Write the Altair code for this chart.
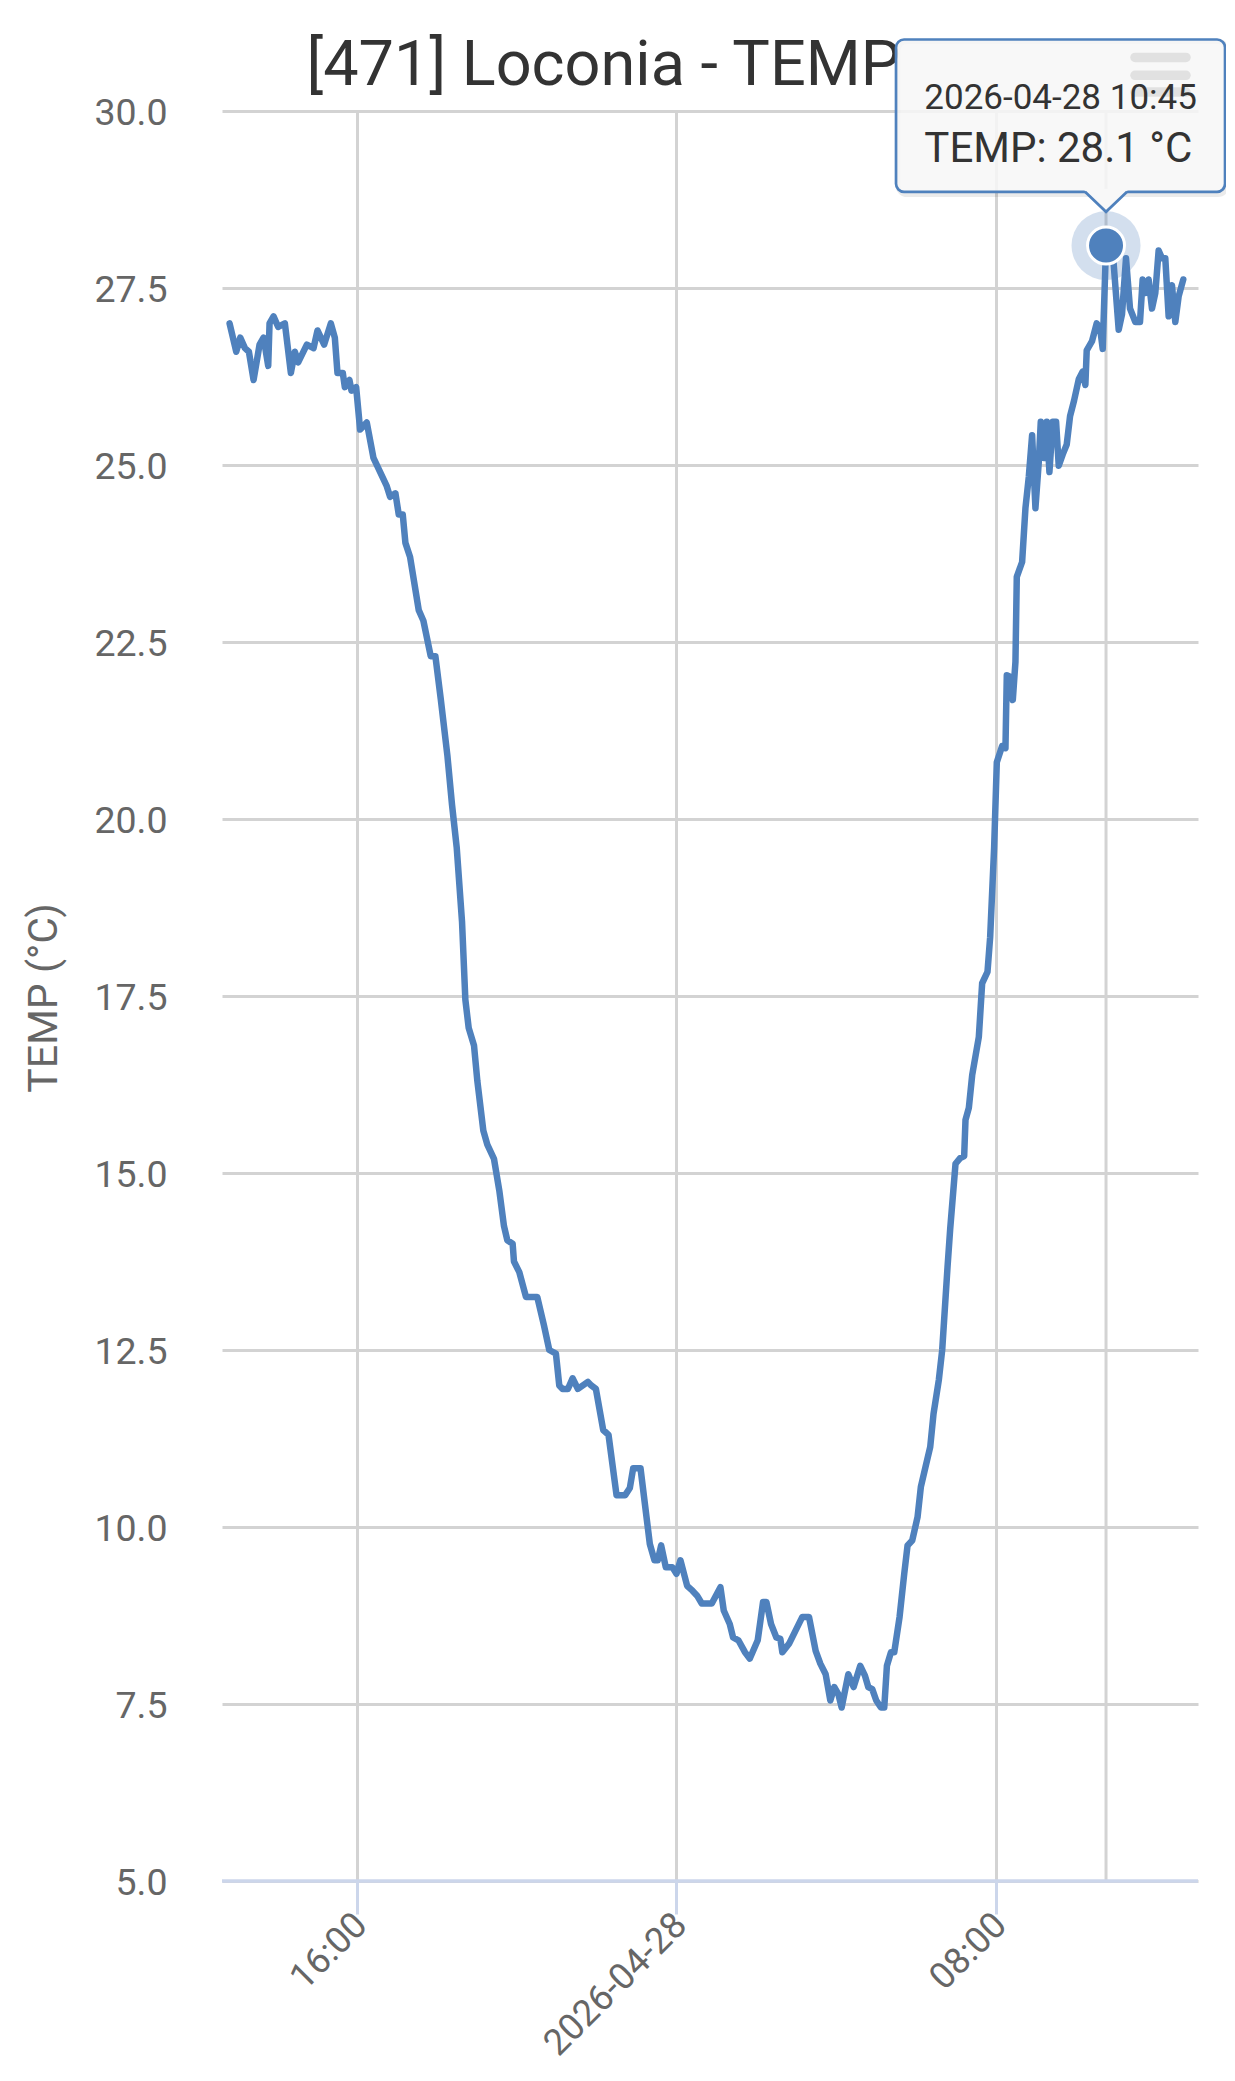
import altair as alt
import pandas as pd

TITLE = "[471] Loconia - TEMP"
Y_TITLE = "TEMP (°C)"

# 2026-04-27 readings
day1_times = ["12:49", "12:59", "13:05", "13:12", "13:18", "13:25", "13:34", "13:40", "13:47", "13:49",
              "13:55", "14:02", "14:12", "14:21", "14:27", "14:32", "14:45", "14:55", "15:01", "15:11",
              "15:21", "15:27", "15:31", "15:39", "15:42", "15:49", "15:52", "15:59", "16:05", "16:15",
              "16:25", "16:45", "16:50", "16:58", "17:03", "17:09", "17:13", "17:20", "17:33", "17:40",
              "17:51", "17:58", "18:06", "18:16", "18:23", "18:30", "18:38", "18:43", "18:48", "18:56",
              "19:01", "19:10", "19:16", "19:26", "19:34", "19:41", "19:46", "19:54", "19:56", "20:04",
              "20:14", "20:31", "20:41", "20:49", "20:59", "21:04", "21:09", "21:17", "21:24", "21:32",
              "21:47", "21:52", "21:59", "22:10", "22:18", "22:30", "22:43", "22:50", "22:55", "23:06",
              "23:20", "23:27", "23:32", "23:37", "23:44", "23:54"]
day1_temps = [27.0, 26.6, 26.8, 26.65, 26.6, 26.2, 26.7, 26.8, 26.4, 27.0,
              27.1, 26.95, 27.0, 26.3, 26.6, 26.45, 26.7, 26.65, 26.9, 26.7,
              27.0, 26.8, 26.3, 26.3, 26.1, 26.2, 26.05, 26.1, 25.5, 25.6,
              25.1, 24.7, 24.55, 24.6, 24.3, 24.3, 23.9, 23.7, 22.95, 22.8,
              22.3, 22.3, 21.7, 20.9, 20.2, 19.6, 18.55, 17.45, 17.05, 16.8,
              16.3, 15.6, 15.4, 15.2, 14.75, 14.25, 14.05, 14.0, 13.75, 13.6,
              13.25, 13.25, 12.85, 12.5, 12.45, 12.0, 11.95, 11.95, 12.1, 11.95,
              12.05, 12.0, 11.95, 11.37, 11.3, 10.45, 10.45, 10.55, 10.83, 10.83,
              9.76, 9.53, 9.53, 9.74, 9.43, 9.43]

# 2026-04-28 readings
day2_times = ["00:00", "00:06", "00:16", "00:24", "00:31", "00:38", "00:53", "01:06", "01:11", "01:20",
              "01:25", "01:33", "01:43", "01:50", "02:02", "02:10", "02:15", "02:22", "02:30", "02:36",
              "02:39", "02:49", "02:59", "03:09", "03:19", "03:29", "03:36", "03:44", "03:51", "03:57",
              "04:03", "04:08", "04:18", "04:26", "04:36", "04:43", "04:48", "04:54", "05:00", "05:07",
              "05:12", "05:16", "05:22", "05:27", "05:35", "05:42", "05:47", "05:54", "06:02", "06:07",
              "06:14", "06:21", "06:26", "06:34", "06:39", "06:47", "06:51", "06:59", "07:06", "07:12",
              "07:14", "07:19", "07:24", "07:34", "07:39", "07:47", "07:51", "07:57", "08:01", "08:09",
              "08:14", "08:16", "08:21", "08:25", "08:29", "08:31", "08:39", "08:44", "08:49", "08:54",
              "08:59", "09:04", "09:07", "09:12", "09:16", "09:20", "09:25", "09:30", "09:34", "09:40",
              "09:46", "09:51", "09:57", "10:04", "10:10", "10:14", "10:16", "10:24", "10:31", "10:36",
              "10:40", "10:45", "10:56", "11:04", "11:09", "11:15", "11:21", "11:29", "11:36", "11:40",
              "11:45", "11:49", "11:54", "11:59", "12:04", "12:09", "12:14", "12:19", "12:24", "12:29",
              "12:34", "12:41"]
day2_temps = [9.34, 9.53, 9.17, 9.1, 9.03, 8.92, 8.92, 9.15, 8.82, 8.63,
              8.44, 8.4, 8.23, 8.14, 8.4, 8.94, 8.94, 8.63, 8.44, 8.42,
              8.23, 8.35, 8.54, 8.73, 8.73, 8.25, 8.07, 7.92, 7.55, 7.74,
              7.64, 7.45, 7.92, 7.74, 8.04, 7.9, 7.74, 7.71, 7.55, 7.45,
              7.45, 8.04, 8.23, 8.23, 8.73, 9.34, 9.74, 9.81, 10.14, 10.57,
              10.85, 11.13, 11.6, 12.08, 12.5, 13.67, 14.21, 15.13, 15.21, 15.24,
              15.75, 15.92, 16.38, 16.92, 17.68, 17.84, 18.33, 19.6, 20.8, 21.03,
              21.0, 22.03, 22.01, 21.68, 22.22, 23.42, 23.63, 24.39, 24.83, 25.42,
              24.39, 25.04, 25.61, 25.1, 25.61, 24.9, 25.61, 25.61, 24.99, 25.15,
              25.29, 25.69, 25.91, 26.21, 26.32, 26.13, 26.62, 26.75, 27.0, 26.94,
              26.64, 28.1, 27.9, 26.91, 27.13, 27.92, 27.21, 27.02, 27.02, 27.62,
              27.43, 27.62, 27.21, 27.43, 28.03, 27.92, 27.92, 27.1, 27.54, 27.02,
              27.38, 27.62]

# hovered point shown in the tooltip
hover_time = "2026-04-28 10:45"
hover_temp = 28.1
y_ticks = [5.0, 7.5, 10.0, 12.5, 15.0, 17.5, 20.0, 22.5, 25.0, 27.5, 30.0]

iso = [f"2026-04-27T{t}:00Z" for t in day1_times] + [f"2026-04-28T{t}:00Z" for t in day2_times]
df = pd.DataFrame({"time": iso, "temp": day1_temps + day2_temps})
hl = pd.DataFrame({
    "time": [hover_time.replace(" ", "T") + ":00Z"],
    "temp": [hover_temp],
    "header": [hover_time],
    "body": [f"TEMP: {hover_temp} °C"],
})

BLUE = "#4F81BD"
GRID = "#d3d3d3"
AXIS = "#ccd6eb"
FONT = "Roboto"

xscale = alt.Scale(
    type="utc",
    domain=[alt.DateTime(year=2026, month=4, date=27, hours=12, minutes=37, seconds=36, utc=True),
            alt.DateTime(year=2026, month=4, date=28, hours=13, minutes=3, seconds=6, utc=True)],
)
yscale = alt.Scale(domain=[5, 30], nice=False, zero=False)

xaxis = alt.Axis(
    values=[alt.DateTime(year=2026, month=4, date=27, hours=16, utc=True),
            alt.DateTime(year=2026, month=4, date=28, hours=0, utc=True),
            alt.DateTime(year=2026, month=4, date=28, hours=8, utc=True)],
    labelExpr="utcFormat(datum.value, '%H:%M') == '00:00' ? utcFormat(datum.value, '%Y-%m-%d') : utcFormat(datum.value, '%H:%M')",
    labelAngle=315, labelAlign="right", labelBaseline="middle",
    labelFont=FONT, labelFontSize=36.5, labelColor="#666666", labelLimit=0,
    labelPadding=5, labelOffset=4, labelOverlap=False, labelFlush=False, labelBound=False,
    tickSize=33, tickWidth=3, tickColor=AXIS,
    grid=True, gridColor=GRID, gridWidth=3,
    domain=False, title=None,
)
yaxis = alt.Axis(
    values=y_ticks, format=".1f",
    labelFont=FONT, labelFontSize=37.5, labelColor="#666666",
    labelPadding=55, labelOffset=2, labelBaseline="middle",
    domain=False, ticks=False,
    grid=True, gridColor=GRID, gridWidth=3,
    title=None,
)

X = alt.X("time:T", scale=xscale, axis=xaxis)
Y = alt.Y("temp:Q", scale=yscale, axis=yaxis)

crosshair = alt.Chart(hl).mark_rule(color=GRID, strokeWidth=3).encode(x="time:T")
xdomain = alt.Chart(hl).mark_rule(color=AXIS, strokeWidth=3.3).encode(y=alt.datum(5))

line = alt.Chart(df).mark_line(color=BLUE, strokeWidth=6.5, strokeJoin="round", strokeCap="round").encode(x=X, y=Y)

halo = alt.Chart(hl).mark_point(filled=True, color=BLUE, opacity=0.25, size=4761).encode(x="time:T", y="temp:Q")
dot = alt.Chart(hl).mark_point(filled=True, fill=BLUE, fillOpacity=1, opacity=1, stroke="white",
                               strokeWidth=3, size=1369).encode(x="time:T", y="temp:Q")

title = alt.Chart(hl).mark_text(text=TITLE, align="left", baseline="alphabetic", font=FONT,
                                fontSize=63, color="#333333").encode(x=alt.value(84.5), y=alt.value(-25.7))
ytitle = alt.Chart(hl).mark_text(text=Y_TITLE, angle=270, align="center", baseline="alphabetic", font=FONT,
                                 fontSize=41, color="#666666").encode(x=alt.value(-164.7), y=alt.value(887))

menu = [
    alt.Chart(hl).mark_rule(color="#666666", strokeWidth=9.5, strokeCap="round").encode(
        x=alt.value(913), x2=alt.value(964), y=alt.value(yy))
    for yy in (-53.6, -35.7, -18.9)
]

shadow = alt.Chart(hl).mark_rect(xOffset=-208, x2Offset=121, yOffset=-204, y2Offset=-51, fill="none",
                                 stroke="#000000", strokeOpacity=0.08, strokeWidth=5, cornerRadius=9).encode(
    x="time:T", x2="time:T", y="temp:Q", y2="temp:Q")
box = alt.Chart(hl).mark_rect(xOffset=-210, x2Offset=119, yOffset=-206, y2Offset=-53.7,
                              fill="#f7f7f7", fillOpacity=0.85, stroke=BLUE, strokeWidth=2.7,
                              cornerRadius=8).encode(x="time:T", x2="time:T", y="temp:Q", y2="temp:Q")
pointer_fill = alt.Chart(hl).mark_point(shape="M-1.1,-0.62L1.1,-0.62L0,0.476Z", filled=True, fill="#f8f8f8",
                                        fillOpacity=1, opacity=1, strokeWidth=0, size=1764,
                                        yOffset=-43.7).encode(x="time:T", y="temp:Q")
pointer_line = alt.Chart(hl).mark_point(shape="M-1,-0.476L0,0.476L1,-0.476", filled=False, stroke=BLUE,
                                        strokeWidth=2.7, opacity=1, size=1764,
                                        yOffset=-43.7).encode(x="time:T", y="temp:Q")
header = alt.Chart(hl).mark_text(align="left", baseline="alphabetic", dx=-181.7, dy=-136.7, font=FONT,
                                 fontSize=35, color="#333333").encode(x="time:T", y="temp:Q", text="header:N")
body = alt.Chart(hl).mark_text(align="left", baseline="alphabetic", dx=-181.7, dy=-83.4, font=FONT,
                               fontSize=42, color="#333333").encode(x="time:T", y="temp:Q", text="body:N")

chart = alt.layer(
    crosshair, xdomain, line, halo, dot, title, ytitle, *menu,
    shadow, box, pointer_fill, pointer_line, header, body,
).properties(
    width=976, height=1770,
    autosize=alt.AutoSizeParams(type="none"),
    padding={"left": 214, "top": 103, "right": 28, "bottom": 187},
    background="white",
).configure_view(stroke=None)

chart.save("out.html", embed_options={"renderer": "svg", "actions": False})
